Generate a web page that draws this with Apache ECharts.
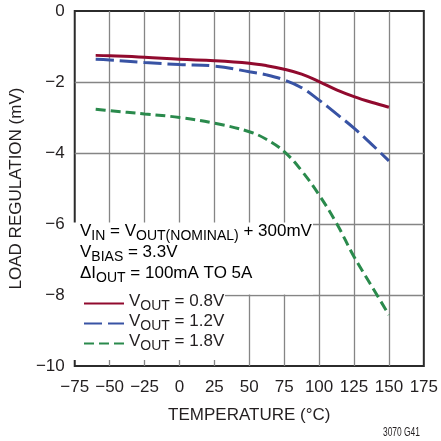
<!DOCTYPE html>
<html>
<head>
<meta charset="utf-8">
<script src="https://cdn.jsdelivr.net/npm/echarts@6/dist/echarts.min.js"></script>
<style>
  html, body { margin: 0; padding: 0; background: #fff; }
  #main { width: 441px; height: 441px; }
</style>
</head>
<body>
<div id="main"></div>
<script>
// temperature points (°C) and load regulation (mV)
var temps = [-60, -50, -25, 0, 25, 50, 62.5, 75, 87.5, 100, 112.5, 125, 137.5, 150];
var reg08 = [-1.25, -1.26, -1.30, -1.36, -1.40, -1.47, -1.54, -1.64, -1.78, -1.99, -2.22, -2.41, -2.57, -2.71];
var reg12 = [-1.36, -1.38, -1.45, -1.51, -1.55, -1.71, -1.80, -1.94, -2.16, -2.51, -2.90, -3.30, -3.75, -4.22];
var reg18 = [-2.77, -2.81, -2.90, -3.00, -3.16, -3.40, -3.62, -3.96, -4.50, -5.18, -5.98, -6.92, -7.74, -8.56];
var seriesNames = ['0.8V', '1.2V', '1.8V'];
var xTicks = [-75, 175, 25];
var yTicks = [-10, 0, 2];

var FONT = '"Liberation Sans", Arial, sans-serif';

function pairs(xs, ys){
	var out = [];
	for (var i = 0; i < xs.length; i++) {
		out.push([xs[i], ys[i]]);
	}
	return out;
}

function minus(v){
	return v < 0 ? '\u2212' + Math.abs(v) : String(v);
}

// rich styles for text with subscripts
var richText = {
	m: { fontFamily: FONT, fontSize: 17, color: '#231f20', lineHeight: 21, verticalAlign: 'top' },
	s: { fontFamily: FONT, fontSize: 14, color: '#231f20', lineHeight: 9, padding: [6, 0, 0, 0], verticalAlign: 'top' }
};

function initchart(){
	var myChart = echarts.init(document.getElementById('main'));
	var option = {
		backgroundColor: '#fff',
		animation: false,
		grid: {
			left: 70, right: 14, top: 11, bottom: 75,
			show: true,
			borderColor: '#2b2b2b',
			borderWidth: 2
		},
		legend: {
			data: seriesNames,
			orient: 'vertical',
			left: 78,
			top: 288,
			itemWidth: 40,
			itemHeight: 14,
			itemGap: 0,
			itemStyle: { opacity: 0 },
			formatter: function(name){
				return '{m|V}{s|OUT}{m| = ' + name + '}';
			},
			textStyle: { rich: richText }
		},
		xAxis: {
			type: 'value',
			min: xTicks[0], max: xTicks[1], interval: xTicks[2],
			name: 'TEMPERATURE (°C)',
			nameLocation: 'middle',
			nameGap: 41,
			nameTextStyle: { fontFamily: FONT, fontSize: 17, color: '#231f20' },
			axisLine: { show: false },
			axisTick: { show: false },
			axisLabel: {
				fontFamily: FONT, fontSize: 17, color: '#231f20', margin: 13,
				formatter: minus
			},
			splitLine: { show: true, showMinLine: false, showMaxLine: false, lineStyle: { color: '#858585', width: 1.3 } }
		},
		yAxis: {
			type: 'value',
			min: yTicks[0], max: yTicks[1], interval: yTicks[2],
			name: 'LOAD REGULATION (mV)',
			nameLocation: 'middle',
			nameGap: 38,
			nameTextStyle: { fontFamily: FONT, fontSize: 17, color: '#231f20' },
			axisLine: { show: false },
			axisTick: { show: false },
			axisLabel: {
				fontFamily: FONT, fontSize: 17, color: '#231f20', margin: 10,
				padding: [6, 0, 0, 0],
				formatter: minus
			},
			splitLine: { show: true, showMinLine: false, showMaxLine: false, lineStyle: { color: '#858585', width: 1.3 } }
		},
		graphic: [
			// white panel behind the note and legend
			{ type: 'rect', z: 1, shape: { x: 71, y: 222.5, width: 242, height: 72 }, style: { fill: '#fff' } },
			{ type: 'rect', z: 1, shape: { x: 71, y: 294, width: 154, height: 66 }, style: { fill: '#fff' } },
			{
				type: 'text', z: 3, left: 80, top: 223,
				style: {
					text: '{m|V}{s|IN}{m| = V}{s|OUT(NOMINAL)}{m| + 300mV}\n' +
						'{m|V}{s|BIAS}{m| = 3.3V}\n' +
						'{m|\u0394I}{s|OUT}{m| = 100mA TO 5A}',
					rich: richText
				}
			},
			{
				type: 'text', z: 3, x: 383, y: 427, scaleX: 0.7,
				style: { text: '3070 G41', font: '12px ' + FONT, fill: '#231f20' }
			}
		],
		series: [
			{
				name: seriesNames[0], type: 'line', smooth: 0.4, symbol: 'none', z: 4,
				data: pairs(temps, reg08),
				lineStyle: { color: '#910a2e', width: 3 },
				itemStyle: { color: '#910a2e' }
			},
			{
				name: seriesNames[1], type: 'line', smooth: 0.4, symbol: 'none', z: 4,
				data: pairs(temps, reg12),
				lineStyle: { color: '#3853a4', width: 3, type: [18, 6] },
				itemStyle: { color: '#3853a4' }
			},
			{
				name: seriesNames[2], type: 'line', smooth: 0.4, symbol: 'none', z: 4,
				data: pairs(temps, reg18),
				lineStyle: { color: '#2a8a4c', width: 3, type: [10, 5] },
				itemStyle: { color: '#2a8a4c' }
			}
		]
	};
	myChart.setOption(option);
}

initchart();
</script>
</body>
</html>
